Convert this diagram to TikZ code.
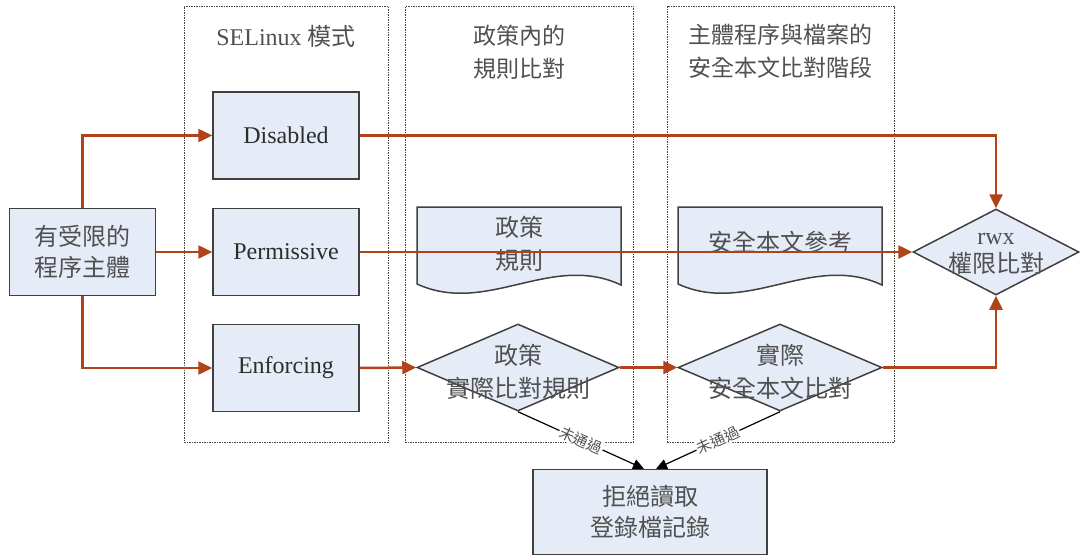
\documentclass[tikz,border=0pt]{standalone}
\usepackage{fontspec}
\setmainfont{Liberation Serif}
\newfontfamily\cjk{Noto Sans CJK TC}
\usetikzlibrary{shapes.geometric,arrows.meta,calc}
\definecolor{arr}{RGB}{176,68,24}
\definecolor{boxfill}{RGB}{230,236,247}
\definecolor{boxline}{RGB}{64,64,64}
\definecolor{txt}{RGB}{45,45,45}
\definecolor{cjktxt}{RGB}{80,80,80}
\definecolor{framec}{RGB}{70,70,70}
\begin{document}
\begin{tikzpicture}[x=1pt,y=-1pt,
  box/.style={draw=boxline, line width=1.5pt, fill=boxfill, minimum width=146pt, minimum height=87pt, inner sep=0pt, font=\fontsize{24}{31}\selectfont, text=txt, align=center},
  cjkbox/.style={box, font=\fontsize{24}{31}\selectfont\cjk, text=cjktxt},
  frame/.style={draw=framec, dash pattern=on 1.5pt off 1pt, line width=1pt, inner sep=0pt},
  ftitle/.style={font=\fontsize{23}{33}\selectfont\cjk, text=cjktxt, align=center, inner sep=0pt},
  dia/.style={diamond, draw=boxline, line width=1.5pt, fill=boxfill, inner sep=0pt},
  diatext/.style={font=\fontsize{24}{33}\selectfont\cjk, text=cjktxt, align=center, inner sep=0pt},
  doc/.style={draw=boxline, line width=1.5pt, fill=boxfill},
  arrow/.style={draw=arr, line width=2.5pt, -{Triangle[length=14pt,width=13pt]}},
  blk/.style={draw=black, line width=1.2pt, -{Triangle[length=11pt,width=10pt]}},
  lbl/.style={font=\fontsize{15}{15}\selectfont\cjk, text=cjktxt, fill=white, inner sep=1pt, sloped, pos=0.5}
]
\useasboundingbox (0,0) rectangle (1080,557);

% frames
\node[frame, minimum width=204pt, minimum height=436pt] (f1) at (286,224) {};
\node[frame, minimum width=228pt, minimum height=436pt] (f2) at (519,224) {};
\node[frame, minimum width=227pt, minimum height=436pt] (f3) at (780.5,224) {};
\node[ftitle, font=\fontsize{24}{33}\selectfont] (t1) at (286,36) {SELinux {\cjk 模式}};
\node[ftitle] (t2) at (519,52) {政策內的\\規則比對};
\node[ftitle] (t3) at (780,51) {主體程序與檔案的\\安全本文比對階段};

% boxes
\node[cjkbox] (left) at (82.5,252) {有受限的\\程序主體};
\node[box] (dis) at (286,135.5) {Disabled};
\node[box] (perm) at (286,252) {Permissive};
\node[box] (enf) at (286,368) {Enforcing};

% documents
\path[doc] (417,207) -- (621,207) -- (621,285)
  .. controls (551,252) and (487,316) .. (417,284) -- cycle;
\node[diatext] (doc1) at (519,244) {政策\\規則};
\path[doc] (678,207) -- (882,207) -- (882,285)
  .. controls (812,252) and (748,316) .. (678,284) -- cycle;
\node[diatext] (doc2) at (780,242) {安全本文參考};

% diamonds
\node[dia, minimum width=202pt, minimum height=87pt] (d1) at (518,367.5) {};
\node[diatext] (d1t) at (518,372) {政策\\實際比對規則};
\node[dia, minimum width=204pt, minimum height=87pt] (d2) at (780,367.5) {};
\node[diatext] (d2t) at (780,372) {實際\\安全本文比對};
\node[dia, minimum width=166pt, minimum height=86pt] (rwx) at (996,252) {};
\node[diatext, font=\fontsize{24}{28}\selectfont] (rwxt) at (996,254) {rwx\\{\cjk 權限比對}};

% deny box
\node[cjkbox, minimum width=234pt, minimum height=85pt] (deny) at (650,512) {拒絕讀取\\登錄檔記錄};
\coordinate (dn1) at ($(deny.north)+(-6,0)$);
\coordinate (dn2) at ($(deny.north)+(6,0)$);

% connectors
\draw[arrow] (left.north) |- (dis.west);
\draw[arrow] (left.east) -- (perm.west);
\draw[arrow] (left.south) |- (enf.west);
\draw[arrow] (dis.east) -| (rwx.north);
\draw[arrow] (perm.east) -- (rwx.west);
\draw[arrow] (enf.east) -- (d1.west);
\draw[arrow] (d1.east) -- (d2.west);
\draw[arrow] (d2.east) -| (rwx.south);
\draw[blk] (d1.south) -- node[lbl] {未通過} (dn1);
\draw[blk] (d2.south) -- node[lbl] {未通過} (dn2);
\end{tikzpicture}
\end{document}
